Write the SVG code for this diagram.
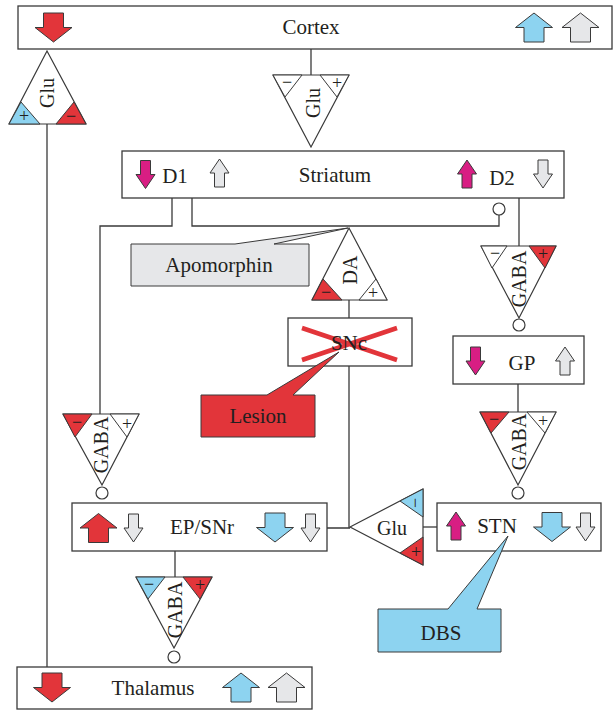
<svg xmlns="http://www.w3.org/2000/svg" xmlns:xlink="http://www.w3.org/1999/xlink" width="615" height="710" viewBox="0 0 615 710">
<style>
  .box{fill:#fff;stroke:#3a3a3a;stroke-width:1.3}
  .tri{fill:#fff;stroke:#3a3a3a;stroke-width:1.2;stroke-linejoin:miter}
  .ln{fill:none;stroke:#3a3a3a;stroke-width:1.3}
  .red{fill:#e2353a;stroke:#3a3a3a;stroke-width:1}
  .mag{fill:#d81e83;stroke:#3a3a3a;stroke-width:1}
  .blue{fill:#8dd3f0;stroke:#3a3a3a;stroke-width:1}
  .gray{fill:#e6e7e9;stroke:#3a3a3a;stroke-width:1}
  .wht{fill:#fff;stroke:#3a3a3a;stroke-width:1}
  .t{font-family:"Liberation Serif","Times New Roman",serif;font-size:21px;fill:#231f20;text-anchor:middle}
  .tt{font-family:"Liberation Serif","Times New Roman",serif;font-size:20px;fill:#231f20;text-anchor:middle}
  .s{font-family:"Liberation Serif","Times New Roman",serif;font-size:18px;fill:#231f20;text-anchor:middle}
  .x{stroke:#e2353a;stroke-width:4.5;fill:none}
  .dot{fill:#fff;stroke:#3a3a3a;stroke-width:1.2}
</style>
<defs>
  <path id="wd" d="M-10,-14.5 H10 V0 H18.5 L0,14.5 L-18.5,0 H-10 Z"/>
  <path id="wu" d="M-10,14.5 H10 V0 H18.5 L0,-14.5 L-18.5,0 H-10 Z"/>
  <path id="nd" d="M-5,-14 H5 V0 H9.5 L0,14 L-9.5,0 H-5 Z"/>
  <path id="nu" d="M-5,14 H5 V0 H9.5 L0,-14 L-9.5,0 H-5 Z"/>
</defs>

<g id="connectors">
  <path class="ln" d="M47,124 V667"/>
  <path class="ln" d="M311,49 V75"/>
  <path class="ln" d="M172,198 V226 H100 V414"/>
  <path class="ln" d="M192,198 V226 H499 V215"/>
  <circle class="dot" cx="499" cy="209" r="6"/>
  <path class="ln" d="M519,198 V246"/>
  <path class="ln" d="M349,300 V318"/>
  <path class="ln" d="M349,366 V528 M327,528 H350"/>
  <circle class="dot" cx="519" cy="325" r="6"/>
  <path class="ln" d="M518,384 V412"/>
  <circle class="dot" cx="518" cy="493" r="6"/>
  <circle class="dot" cx="102" cy="493" r="6"/>
  <path class="ln" d="M423,527 H437"/>
  <path class="ln" d="M175,551 V577"/>
  <circle class="dot" cx="174" cy="657" r="6"/>
</g>

<g id="cortex">
  <rect class="box" x="18" y="6" width="594" height="43"/>
  <use xlink:href="#wd" href="#wd" class="red" transform="translate(53.5,27.5)"/>
  <text class="t" x="311" y="34">Cortex</text>
  <use xlink:href="#wu" href="#wu" class="blue" transform="translate(534,27.5)"/>
  <use xlink:href="#wu" href="#wu" class="gray" transform="translate(580.5,27.5)"/>
</g>

<g id="glu-left">
  <polygon class="tri" points="47,51 86,124 9,124"/>
  <polygon class="blue" points="9,124 40,124 21,102"/>
  <polygon class="red" points="86,124 56,124 74,102"/>
  <text class="s" x="24" y="122">+</text>
  <text class="s" x="71" y="122">−</text>
  <text class="tt" transform="translate(47,93) rotate(-90)" x="0" y="7">Glu</text>
</g>

<g id="glu-mid">
  <polygon class="tri" points="273,75 349,75 311,147"/>
  <polygon class="wht" points="273,75 302,75 285,97"/>
  <polygon class="wht" points="349,75 320,75 337,97"/>
  <text class="s" x="287" y="88">−</text>
  <text class="s" x="337" y="89">+</text>
  <text class="tt" transform="translate(313,103) rotate(-90)" x="0" y="7">Glu</text>
</g>

<g id="striatum">
  <rect class="box" x="122" y="151" width="442" height="47"/>
  <use xlink:href="#nd" href="#nd" class="mag" transform="translate(145.5,174.5)"/>
  <text class="t" x="175" y="183">D1</text>
  <use xlink:href="#nu" href="#nu" class="gray" transform="translate(219.5,173)"/>
  <text class="t" x="335" y="182">Striatum</text>
  <use xlink:href="#nu" href="#nu" class="mag" transform="translate(467,174)"/>
  <text class="t" x="502" y="185">D2</text>
  <use xlink:href="#nd" href="#nd" class="gray" transform="translate(543,174)"/>
</g>

<g id="apomorphin">
  <path class="gray" d="M131,244 H235 L348,228 L274,244 H309 V286 H131 Z"/>
  <text class="t" x="219" y="272">Apomorphin</text>
</g>

<g id="da">
  <polygon class="tri" points="349,228 387,300 312,300"/>
  <polygon class="red" points="312,300 342,300 323,279"/>
  <polygon class="wht" points="387,300 359,300 376,279"/>
  <text class="s" x="326" y="298">−</text>
  <text class="s" x="373" y="299">+</text>
  <text class="tt" transform="translate(350,270) rotate(-90)" x="0" y="7">DA</text>
</g>

<g id="snc">
  <rect class="box" x="288" y="318" width="124" height="48"/>
  <path class="x" d="M302,328 L397,360 M302,360 L397,328"/>
  <text class="t" x="349" y="350">SNc</text>
</g>

<g id="lesion">
  <path class="red" d="M201,395 H267 L339,352 L293,395 H315 V437 H201 Z"/>
  <text class="t" x="258" y="423">Lesion</text>
</g>

<g id="gaba-d2">
  <polygon class="tri" points="481,246 556,246 519,318"/>
  <polygon class="wht" points="481,246 507,246 492,268"/>
  <polygon class="red" points="556,246 529,246 545,268"/>
  <text class="s" x="495" y="259">−</text>
  <text class="s" x="543" y="260">+</text>
  <text class="tt" transform="translate(519,279) rotate(-90)" x="0" y="7">GABA</text>
</g>

<g id="gp">
  <rect class="box" x="453" y="336" width="131" height="48"/>
  <use xlink:href="#nd" href="#nd" class="mag" transform="translate(475.5,361)"/>
  <text class="t" x="522" y="370">GP</text>
  <use xlink:href="#nu" href="#nu" class="gray" transform="translate(565,361)"/>
</g>

<g id="gaba-gp">
  <polygon class="tri" points="480,412 556,412 518,485"/>
  <polygon class="red" points="480,412 509,412 491,433"/>
  <polygon class="wht" points="556,412 527,412 545,433"/>
  <text class="s" x="494" y="425">−</text>
  <text class="s" x="543" y="427">+</text>
  <text class="tt" transform="translate(519,442) rotate(-90)" x="0" y="7">GABA</text>
</g>

<g id="gaba-d1">
  <polygon class="tri" points="63,414 139,414 102,485"/>
  <polygon class="red" points="63,414 92,414 75,437"/>
  <polygon class="wht" points="139,414 110,414 127,437"/>
  <text class="s" x="77" y="428">−</text>
  <text class="s" x="127" y="430">+</text>
  <text class="tt" transform="translate(101,445) rotate(-90)" x="0" y="7">GABA</text>
</g>

<g id="ep-snr">
  <rect class="box" x="72" y="503" width="255" height="48"/>
  <use xlink:href="#wu" href="#wu" class="red" transform="translate(98.5,528)"/>
  <use xlink:href="#nd" href="#nd" class="gray" transform="translate(133.5,528)"/>
  <text class="t" x="202" y="534">EP/SNr</text>
  <use xlink:href="#wd" href="#wd" class="blue" transform="translate(275,527.5)"/>
  <use xlink:href="#nd" href="#nd" class="gray" transform="translate(310.5,528)"/>
</g>

<g id="glu-stn">
  <polygon class="tri" points="350,527 423,489 423,565"/>
  <polygon class="blue" points="423,489 423,517 400,501"/>
  <polygon class="red" points="423,565 423,537 400,553"/>
  <text class="s" transform="translate(415,503) rotate(-90)" x="0" y="6">−</text>
  <text class="s" x="416" y="558">+</text>
  <text class="tt" x="392" y="535">Glu</text>
</g>

<g id="stn">
  <rect class="box" x="437" y="503" width="164" height="48"/>
  <use xlink:href="#nu" href="#nu" class="mag" transform="translate(456,526)"/>
  <text class="t" x="497" y="533">STN</text>
  <use xlink:href="#wd" href="#wd" class="blue" transform="translate(552,527)"/>
  <use xlink:href="#nd" href="#nd" class="gray" transform="translate(585.5,527)"/>
</g>

<g id="dbs">
  <path class="blue" d="M378,609 H448 L508,536 L477,609 H501 V652 H378 Z"/>
  <text class="t" x="441" y="640">DBS</text>
</g>

<g id="gaba-ep">
  <polygon class="tri" points="136,577 212,577 174,648"/>
  <polygon class="blue" points="136,577 165,577 148,599"/>
  <polygon class="red" points="212,577 183,577 200,599"/>
  <text class="s" x="149" y="590">−</text>
  <text class="s" x="200" y="591">+</text>
  <text class="tt" transform="translate(175,610) rotate(-90)" x="0" y="7">GABA</text>
</g>

<g id="thalamus">
  <rect class="box" x="17" y="667" width="295" height="42"/>
  <use xlink:href="#wd" href="#wd" class="red" transform="translate(52,687.5)"/>
  <text class="t" x="153" y="695">Thalamus</text>
  <use xlink:href="#wu" href="#wu" class="blue" transform="translate(241,687.5)"/>
  <use xlink:href="#wu" href="#wu" class="gray" transform="translate(286.5,687.5)"/>
</g>
</svg>
